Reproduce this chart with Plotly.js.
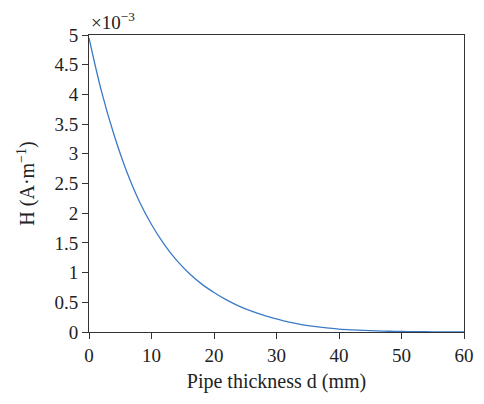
<!DOCTYPE html>
<html>
<head>
<meta charset="utf-8">
<script src="https://cdn.plot.ly/plotly-3.0.1.min.js"></script>
<style>html,body{margin:0;padding:0;background:#fff;}#chart{width:484px;height:404px;}</style>
</head>
<body>
<div id="chart"></div>
<script>
// Pipe thickness d (mm)
const thickness = [0,2,4,6,8,10,12,14,16,18,20,22,24,26,28,30,32,34,36,38,40,42,44,46,48,50,52,54,56,58,60];
// H (A·m^-1), in units of 1e-3
const fieldH = [4.95,4.05,3.32,2.71,2.21,1.81,1.48,1.21,0.99,0.81,0.665,0.54,0.435,0.35,0.28,0.22,0.165,0.125,0.093,0.068,0.05,0.037,0.027,0.019,0.013,0.009,0.006,0.004,0.0025,0.0015,0.001];
const xTicks = [0,10,20,30,40,50,60];
const yTicks = [0,0.5,1,1.5,2,2.5,3,3.5,4,4.5,5];
const yTickLabels = ["0","0.5","1","1.5","2","2.5","3","3.5","4","4.5","5"];

const tickFont = {family: "Liberation Serif, Times New Roman, serif", size: 19, color: "#222"};
const titleFont = {family: "Liberation Serif, Times New Roman, serif", size: 20, color: "#222"};

Plotly.newPlot("chart", [{
  x: thickness, y: fieldH, type: "scatter", mode: "lines",
  line: {color: "#3a7bc8", width: 1.3, shape: "spline"}
}], {
  width: 484, height: 404,
  margin: {l: 89, r: 20, t: 35, b: 72},
  paper_bgcolor: "#fff", plot_bgcolor: "#fff",
  font: tickFont,
  showlegend: false,
  xaxis: {
    range: [0, 60], tickvals: xTicks, ticks: "outside", ticklen: 6, tickcolor: "#333",
    showline: true, mirror: true, linecolor: "#333", linewidth: 1,
    showgrid: false, zeroline: false, tickfont: tickFont,
    title: {text: "Pipe thickness d (mm)", font: titleFont, standoff: 9}
  },
  yaxis: {
    range: [0, 5], tickvals: yTicks, ticktext: yTickLabels, ticks: "outside", ticklen: 6, tickcolor: "#333",
    showline: true, mirror: true, linecolor: "#333", linewidth: 1,
    showgrid: false, zeroline: false, tickfont: tickFont,
    title: {text: "H (A·m<sup>−1</sup>)", font: titleFont, standoff: 14}
  },
  annotations: [{
    text: "×10<sup>−3</sup>", xref: "paper", yref: "paper", x: 0, y: 1,
    xanchor: "left", yanchor: "bottom", yshift: 0, showarrow: false, font: tickFont
  }]
}, {displayModeBar: false, staticPlot: true});
</script>
</body>
</html>
